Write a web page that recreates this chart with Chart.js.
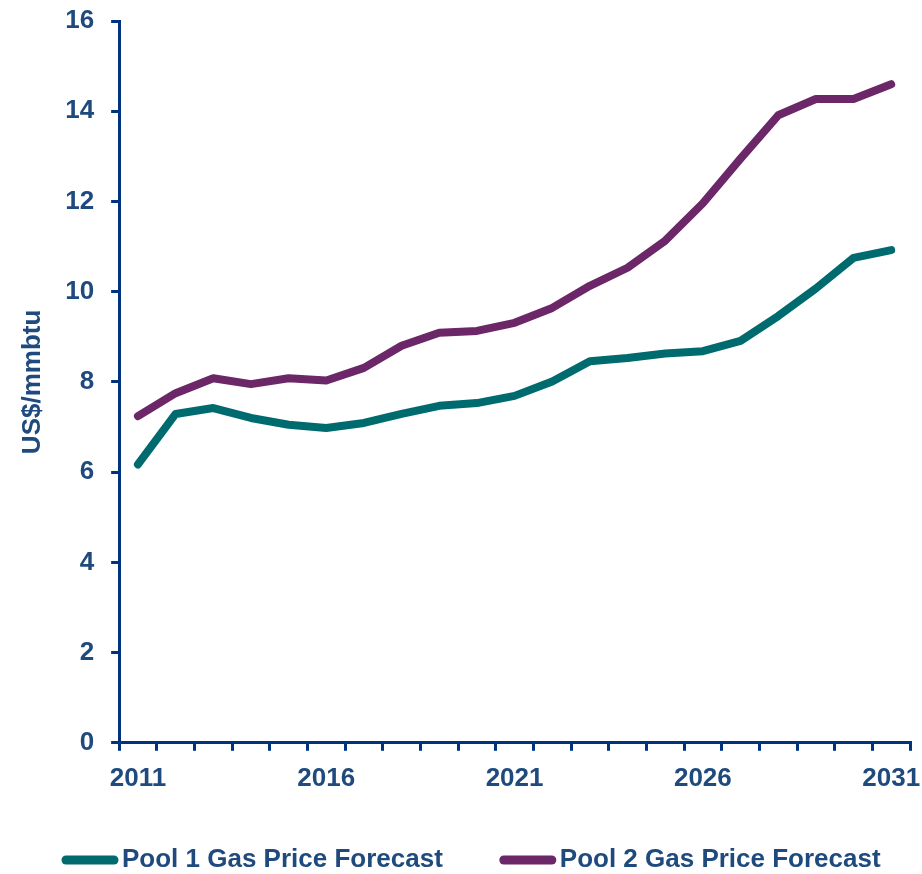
<!DOCTYPE html>
<html>
  <head>
    <meta charset="UTF-8">
    <title>Gas Price Forecast</title>
    <script src="https://cdn.jsdelivr.net/npm/chart.js@4"></script>
    <style>
      body { margin: 0; background: #fff; }
      #wrap { width: 922px; height: 874px; }
    </style>
  </head>
  <body>
    <div id='wrap'><canvas id='priceChart'></canvas></div>

    <script>
      const years = ['2011', '2012', '2013', '2014', '2015', '2016', '2017', '2018', '2019', '2020',
                     '2021', '2022', '2023', '2024', '2025', '2026', '2027', '2028', '2029', '2030', '2031'];

      const pool1 = [6.17, 7.29, 7.42, 7.2, 7.05, 6.98, 7.09, 7.29, 7.47, 7.53,
                     7.69, 8.01, 8.46, 8.53, 8.63, 8.68, 8.91, 9.46, 10.07, 10.75, 10.92];

      const pool2 = [7.24, 7.75, 8.08, 7.95, 8.08, 8.03, 8.31, 8.8, 9.09, 9.13,
                     9.31, 9.64, 10.13, 10.53, 11.13, 11.96, 12.95, 13.91, 14.27, 14.27, 14.6];

      const AXIS = '#00337F';
      const TEXT = '#1F4A7E';
      const TEAL = '#006B6E';
      const PURPLE = '#6B2767';
      const FONT = 'Liberation Sans, Arial, sans-serif';

      // legend drawn by hand: a thick line sample right against the label text
      const lineLegend = {
        id: 'lineLegend',
        afterDraw(chart) {
          const c = chart.ctx;
          const y = 860;
          let x = 62;
          c.save();
          c.font = 'bold 26px ' + FONT;
          c.textBaseline = 'middle';
          chart.data.datasets.forEach((ds) => {
            c.strokeStyle = ds.borderColor;
            c.lineWidth = 9;
            c.lineCap = 'round';
            c.beginPath();
            c.moveTo(x + 4, y);
            c.lineTo(x + 52, y);
            c.stroke();
            c.fillStyle = TEXT;
            c.fillText(ds.label, x + 60, y);
            x += 60 + c.measureText(ds.label).width + 57;
          });
          c.restore();
        }
      };

      const ctx = document.getElementById('priceChart').getContext('2d');

      new Chart(ctx, {
        type: 'line',
        data: {
          labels: years,
          datasets: [{
            label: 'Pool 1 Gas Price Forecast',
            data: pool1,
            borderColor: TEAL,
            borderWidth: 8,
            borderCapStyle: 'round',
            borderJoinStyle: 'round',
            pointRadius: 0,
            tension: 0
          }, {
            label: 'Pool 2 Gas Price Forecast',
            data: pool2,
            borderColor: PURPLE,
            borderWidth: 8,
            borderCapStyle: 'round',
            borderJoinStyle: 'round',
            pointRadius: 0,
            tension: 0
          }]
        },
        plugins: [lineLegend],
        options: {
          responsive: true,
          maintainAspectRatio: false,
          animation: false,
          layout: {
            padding: { left: 17, right: 12, top: 21, bottom: 68 }
          },
          plugins: {
            tooltip: { enabled: false },
            legend: { display: false }
          },
          scales: {
            x: {
              offset: true,
              // the last year label may hang past the axis end, like the original
              afterFit: (scale) => { scale.paddingRight = 0; },
              grid: {
                offset: true,
                drawOnChartArea: false,
                drawTicks: true,
                tickLength: 8,
                color: AXIS,
                lineWidth: 3
              },
              border: { color: AXIS, width: 3 },
              ticks: {
                autoSkip: false,
                maxRotation: 0,
                padding: 12,
                color: TEXT,
                font: { family: FONT, size: 26, weight: 'bold' },
                callback: function (value, index) {
                  return index % 5 === 0 ? this.getLabelForValue(value) : '';
                }
              }
            },
            y: {
              min: 0,
              max: 16,
              afterFit: (scale) => { scale.paddingTop = 0; },
              grid: {
                drawOnChartArea: false,
                drawTicks: true,
                tickLength: 8,
                color: AXIS,
                lineWidth: 3
              },
              border: { color: AXIS, width: 3 },
              ticks: {
                stepSize: 2,
                padding: 17,
                color: TEXT,
                font: { family: FONT, size: 26, weight: 'bold' }
              },
              title: {
                display: true,
                text: 'US$/mmbtu',
                color: TEXT,
                padding: { top: 0, bottom: 0 },
                font: { family: FONT, size: 26, weight: 'bold' }
              }
            }
          }
        }
      });
    </script>
  </body>
</html>
